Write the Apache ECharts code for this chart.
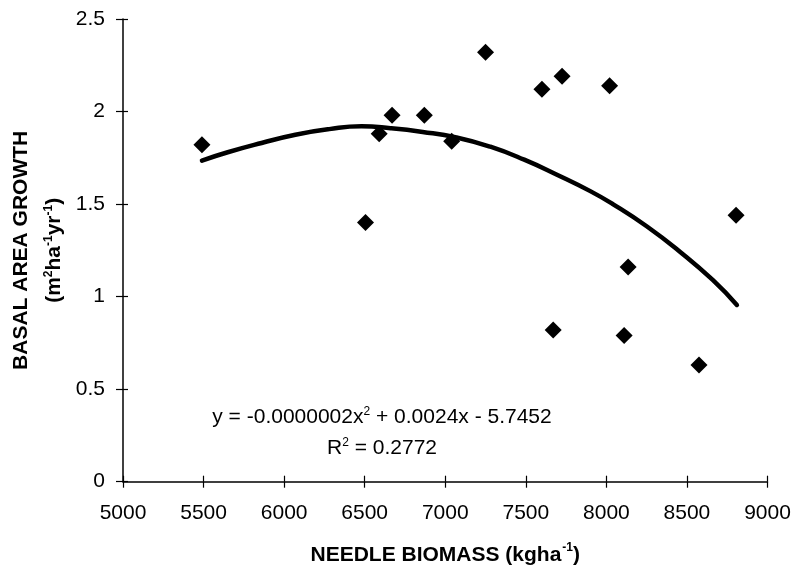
<!DOCTYPE html>
<html>
<head>
<meta charset="utf-8">
<script src="https://cdn.jsdelivr.net/npm/echarts@6/dist/echarts.min.js"></script>
<style>
html,body{margin:0;padding:0;background:#fff;}
#chart{width:796px;height:571px;}
</style>
</head>
<body>
<div id="chart"></div>
<script>
// Observed points
var needleBiomass = [5490, 6505, 6590, 6670, 6870, 7040, 7250, 7600, 7725, 8020, 8805, 8135, 7670, 8110, 8575];
var basalGrowth   = [1.82, 1.40, 1.88, 1.98, 1.98, 1.84, 2.32, 2.12, 2.19, 2.14, 1.44, 1.16, 0.82, 0.79, 0.63];

// Trend curve
var trendX = [5490, 5650, 5860, 6070, 6280, 6480, 6660, 6860, 7070, 7280, 7490, 7690, 7900, 8040, 8250, 8460, 8660, 8810];
var trendY = [1.735, 1.78, 1.83, 1.875, 1.905, 1.92, 1.91, 1.89, 1.86, 1.81, 1.74, 1.66, 1.57, 1.50, 1.38, 1.24, 1.09, 0.955];

// Axis ticks
var xTicks = [5000, 5500, 6000, 6500, 7000, 7500, 8000, 8500, 9000];
var yTicks = [0, 0.5, 1, 1.5, 2, 2.5];

var xMin = xTicks[0], xMax = xTicks[xTicks.length - 1], xStep = xTicks[1] - xTicks[0];
var yMin = yTicks[0], yMax = yTicks[yTicks.length - 1], yStep = yTicks[1] - yTicks[0];

var FONT = '"Liberation Sans", Arial, Helvetica, sans-serif';

var pts = needleBiomass.map(function (x, i) { return [x, basalGrowth[i]]; });
var trend = trendX.map(function (x, i) { return [x, trendY[i]]; });

var chart = echarts.init(document.getElementById('chart'));

var baseX = {
  type: 'value', min: xMin, max: xMax, interval: xStep,
  splitLine: { show: false }
};
var baseY = {
  type: 'value', min: yMin, max: yMax, interval: yStep,
  splitLine: { show: false }
};

var option = {
  animation: false,
  backgroundColor: '#ffffff',
  grid: { left: 123, top: 19, width: 644.5, height: 462.7, containLabel: false },
  xAxis: [
    Object.assign({}, baseX, {
      position: 'bottom',
      axisLine: { show: true, lineStyle: { color: '#000', width: 1.5 } },
      axisTick: { show: true, inside: false, length: 6, lineStyle: { color: '#000', width: 1.2 } },
      axisLabel: { color: '#000', fontSize: 21, fontFamily: FONT, margin: 21,
        formatter: function (v) { return String(v); } },
      name: '{t|NEEDLE BIOMASS (kgha}{s|-1}{t|)}',
      nameLocation: 'middle',
      nameGap: 60,
      nameTextStyle: {
        rich: {
          t: { fontSize: 21, fontWeight: 'bold', fontFamily: FONT, color: '#000', lineHeight: 24, verticalAlign: 'bottom' },
          s: { fontSize: 12, fontWeight: 'bold', fontFamily: FONT, color: '#000', lineHeight: 24, verticalAlign: 'top', padding: [0, 0, 0, 1] }
        }
      }
    }),
    Object.assign({}, baseX, {
      position: 'bottom',
      axisLine: { show: false },
      axisTick: { show: true, inside: true, length: 6, lineStyle: { color: '#000', width: 1.2 } },
      axisLabel: { show: false }
    })
  ],
  yAxis: [
    Object.assign({}, baseY, {
      position: 'left',
      axisLine: { show: true, lineStyle: { color: '#000', width: 1.5 } },
      axisTick: { show: true, inside: false, length: 7, lineStyle: { color: '#000', width: 1.2 } },
      axisLabel: { color: '#000', fontSize: 21, fontFamily: FONT, margin: 18 },
      name: '{h|BASAL AREA GROWTH}\n{t|(m}{s|2}{t|ha}{s|-1}{t|yr}{s|-1}{t|)}',
      nameLocation: 'middle',
      nameRotate: 90,
      nameGap: 56,
      nameTextStyle: {
        rich: {
          h: { fontSize: 21, fontWeight: 'bold', fontFamily: FONT, color: '#000', lineHeight: 44, verticalAlign: 'middle' },
          t: { fontSize: 21, fontWeight: 'bold', fontFamily: FONT, color: '#000', lineHeight: 22, verticalAlign: 'bottom' },
          s: { fontSize: 12, fontWeight: 'bold', fontFamily: FONT, color: '#000', lineHeight: 22, verticalAlign: 'top' }
        }
      }
    }),
    Object.assign({}, baseY, {
      position: 'left',
      axisLine: { show: false },
      axisTick: { show: true, inside: true, length: 5, lineStyle: { color: '#000', width: 1.2 } },
      axisLabel: { show: false }
    })
  ],
  series: [
    {
      type: 'line',
      xAxisIndex: 0, yAxisIndex: 0,
      data: trend,
      smooth: true,
      showSymbol: false,
      symbol: 'none',
      lineStyle: { color: '#000', width: 4.5, cap: 'round' },
      z: 2
    },
    {
      type: 'scatter',
      xAxisIndex: 0, yAxisIndex: 0,
      data: pts,
      symbol: 'diamond',
      symbolSize: 17,
      itemStyle: { color: '#000', opacity: 1 },
      z: 3
    }
  ],
  graphic: [
    {
      type: 'text',
      x: 382, y: 417,
      style: {
        text: '{t|y = -0.0000002x}{s|2}{t| + 0.0024x - 5.7452}',
        align: 'center', verticalAlign: 'middle',
        rich: {
          t: { fontSize: 21, fontFamily: FONT, fill: '#000', lineHeight: 22, verticalAlign: 'bottom' },
          s: { fontSize: 12, fontFamily: FONT, fill: '#000', lineHeight: 22, verticalAlign: 'top' }
        }
      }
    },
    {
      type: 'text',
      x: 382, y: 448,
      style: {
        text: '{t|R}{s|2}{t| = 0.2772}',
        align: 'center', verticalAlign: 'middle',
        rich: {
          t: { fontSize: 21, fontFamily: FONT, fill: '#000', lineHeight: 22, verticalAlign: 'bottom' },
          s: { fontSize: 12, fontFamily: FONT, fill: '#000', lineHeight: 22, verticalAlign: 'top' }
        }
      }
    }
  ]
};

chart.setOption(option);
</script>
</body>
</html>
